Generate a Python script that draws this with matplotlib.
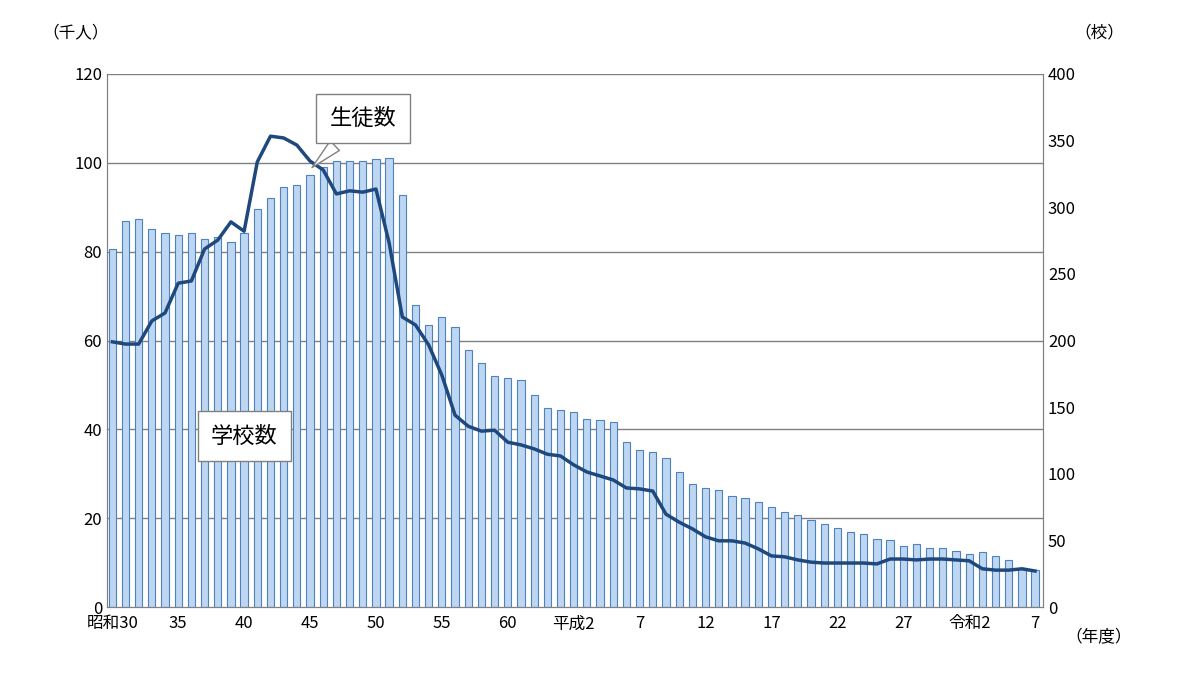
import matplotlib.pyplot as plt

plt.rcParams['font.family'] = ['Noto Sans CJK JP', 'DejaVu Sans']

years = list(range(1955, 2026))
schools = [269, 290, 291, 284, 281, 279, 281, 276, 278, 274,
           281, 299, 307, 315, 317, 324, 330, 335, 335, 335,
           336, 337, 309, 227, 212, 218, 210, 193, 183, 173,
           172, 170, 159, 149, 148, 146, 141, 140, 139, 124,
           118, 116, 112, 101, 92, 89, 88, 83, 82, 79,
           75, 71, 69, 65, 62, 59, 56, 55, 51, 50,
           46, 47, 44, 44, 42, 40, 41, 38, 35, 29, 28]
students = [59.7, 59.2, 59.2, 64.4, 66.2, 72.9, 73.4, 80.6, 82.6, 86.7,
            84.6, 100.2, 106.0, 105.6, 104.0, 100.4, 98.4, 93.0, 93.7, 93.4,
            94.1, 82.0, 65.3, 63.5, 59.0, 52.2, 43.2, 40.7, 39.6, 39.8,
            37.1, 36.5, 35.6, 34.4, 34.0, 32.0, 30.4, 29.5, 28.6, 26.8,
            26.6, 26.1, 20.9, 19.1, 17.6, 15.8, 14.9, 14.9, 14.4, 13.1,
            11.5, 11.3, 10.6, 10.1, 9.9, 9.9, 9.9, 9.9, 9.7, 10.8,
            10.8, 10.6, 10.8, 10.8, 10.6, 10.4, 8.6, 8.3, 8.3, 8.6, 8.1]
tick_years = list(range(1955, 2026, 5))
tick_labels = ['昭和30', '35', '40', '45', '50', '55', '60', '平成2',
               '7', '12', '17', '22', '27', '令和2', '7']

fig = plt.figure(figsize=(12, 6.87), dpi=100)
ax = fig.add_axes([107/1200, 80/687, 936/1200, 533/687])
ax2 = ax.twinx()

ax2.bar(years, schools, width=0.55, color='#bdd7f3', edgecolor='#4f81bd', linewidth=0.8, zorder=2)
ax2.set_ylim(0, 400)
ax2.set_yticks(range(0, 401, 50))

ax.set_zorder(ax2.get_zorder() + 1)
ax.patch.set_visible(False)
ax.plot(years, students, color='#1f497d', linewidth=2.5, zorder=3)
ax.set_ylim(0, 120)
ax.set_yticks(range(0, 121, 20))
ax.set_xlim(1954.6, 2025.6)
for v in range(20, 121, 20):
    ax2.axhline(v * 400 / 120, color='#808080', linewidth=1, zorder=1)

ax.set_xticks(tick_years)
ax.set_xticklabels(tick_labels, fontsize=12)
ax.tick_params(axis='x', length=0, pad=6)
ax.tick_params(axis='y', labelsize=12, length=0)
ax2.tick_params(axis='y', labelsize=12, length=0)
for a in (ax, ax2):
    for s in a.spines.values():
        s.set_color('#808080')
    a.spines['top'].set_visible(False)

fig.text(0.035, 0.945, '（千人）', fontsize=12)
fig.text(0.895, 0.945, '（校）', fontsize=12)
fig.text(0.888, 0.065, '（年度）', fontsize=12)

ax.annotate('生徒数', xy=(1970.0, 98.5), xytext=(1971.5, 110),
            fontsize=16, ha='left', va='center',
            bbox=dict(boxstyle='square,pad=0.6', fc='white', ec='#808080'),
            arrowprops=dict(arrowstyle='wedge,tail_width=0.6', fc='white', ec='#808080'))
ax.text(1962.5, 38.5, '学校数', fontsize=16, ha='left', va='center',
        bbox=dict(boxstyle='square,pad=0.6', fc='white', ec='#808080'))

fig.savefig('out.png')
